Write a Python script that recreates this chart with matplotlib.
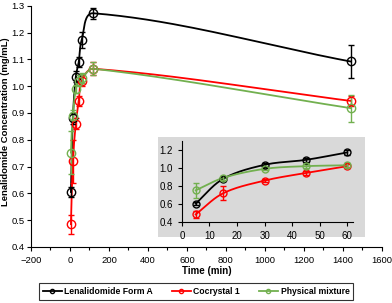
import numpy as np
import matplotlib
matplotlib.use("Agg")
import matplotlib.pyplot as plt
from matplotlib.patches import Rectangle
from matplotlib.ticker import MultipleLocator

plt.rcParams['font.family'] = ['Liberation Sans', 'DejaVu Sans']

time = [5, 15, 30, 45, 60, 120, 1440]
form_a = [0.605, 0.88, 1.035, 1.09, 1.172, 1.272, 1.092]
form_a_err = [0.02, 0.02, 0.02, 0.02, 0.03, 0.02, 0.06]
cocrystal = [0.485, 0.72, 0.86, 0.945, 1.02, 1.065, 0.945]
cocrystal_err = [0.035, 0.08, 0.02, 0.02, 0.02, 0.025, 0.02]
mixture = [0.752, 0.89, 0.99, 1.02, 1.03, 1.065, 0.918]
mixture_err = [0.08, 0.02, 0.015, 0.02, 0.02, 0.025, 0.05]

labels = ['Lenalidomide Form A', 'Cocrystal 1', 'Physical mixture']
colors = ['black', '#ff0000', '#72b04f']
series = [(form_a, form_a_err), (cocrystal, cocrystal_err), (mixture, mixture_err)]


def smooth(x, y, sx, sy, n=40):
    # smoothed line like Excel's, built in screen-like scaled coordinates
    pts = np.column_stack([np.asarray(x, float) / sx, np.asarray(y, float) / sy])
    ext = np.vstack([pts[0], pts, pts[-1]])
    t = np.linspace(0, 1, n)[:, None]
    out = []
    for i in range(1, len(ext) - 2):
        p0, p1, p2, p3 = ext[i - 1], ext[i], ext[i + 1], ext[i + 2]
        seg = np.linalg.norm(p2 - p1)
        d1 = p2 - p0
        d2 = p3 - p1
        d1 = d1 / (np.linalg.norm(d1) or 1)
        d2 = d2 / (np.linalg.norm(d2) or 1)
        c1 = p1 + d1 * seg / 3
        c2 = p2 - d2 * seg / 3
        b = (1 - t) ** 3 * p1 + 3 * (1 - t) ** 2 * t * c1 + 3 * (1 - t) * t ** 2 * c2 + t ** 3 * p2
        out.append(b)
    out = np.vstack(out)
    return out[:, 0] * sx, out[:, 1] * sy


def draw(ax, npts, ms, sx, sy):
    for (vals, err), c in zip(series, colors):
        lx, ly = smooth(time[:npts], vals[:npts], sx, sy)
        ax.plot(lx, ly, color=c, lw=1.3, zorder=2)
        ax.errorbar(time[:npts], vals[:npts], yerr=err[:npts], fmt='o', mfc='none',
                    mec=c, ecolor=c, ms=ms, mew=1.0, elinewidth=1.0, capsize=2,
                    capthick=1.0, zorder=3)


fig = plt.figure(figsize=(3.92, 3.03), dpi=100)
ax = fig.add_axes([0.079, 0.185, 0.895, 0.796])
# scale: data units per pixel (approx.)
draw(ax, len(time), 6, 1800 / 351, 0.9 / 241)
ax.set_xlim(-200, 1600)
ax.set_ylim(0.4, 1.3)
ax.xaxis.set_major_locator(MultipleLocator(200))
ax.xaxis.set_minor_locator(MultipleLocator(100))
ax.yaxis.set_major_locator(MultipleLocator(0.1))
ax.yaxis.set_major_formatter(plt.FormatStrFormatter('%.1f'))
for s in ['top', 'right']:
    ax.spines[s].set_visible(False)
ax.tick_params(labelsize=6.8, length=3, width=0.8)
ax.tick_params(axis='y', pad=1.5)
ax.tick_params(which='minor', length=2, width=0.8)
ax.set_xlabel('Time (min)', fontsize=7, fontweight='bold', labelpad=1)
ax.set_ylabel('Lenalidomide Concentration (mg/mL)', fontsize=6.8, fontweight='bold')
ax.yaxis.set_label_coords(-0.06, 0.52)

fig.patches.append(Rectangle((0.403, 0.218), 0.528, 0.33, transform=fig.transFigure,
                             facecolor='#d9d9d9', edgecolor='none', zorder=5))
ins = fig.add_axes([0.464, 0.267, 0.436, 0.268])
ins.set_zorder(6)
ins.patch.set_alpha(0)
draw(ins, 5, 5, 62 / 171, 0.9 / 81)
ins.set_xlim(0, 62)
ins.set_ylim(0.4, 1.3)
ins.set_xticks([0, 10, 20, 30, 40, 50, 60])
ins.set_yticks([0.4, 0.6, 0.8, 1.0, 1.2])
ins.yaxis.set_major_formatter(plt.FormatStrFormatter('%.1f'))
for s in ['top', 'right']:
    ins.spines[s].set_visible(False)
ins.tick_params(labelsize=7, length=3, width=0.8)

handles = [plt.Line2D([], [], color=c, lw=1.3, marker='o', ms=3, mfc='none', mew=1.0)
           for c in colors]
leg = fig.legend(handles, labels, loc='center', bbox_to_anchor=(0.5, 0.037), ncol=3,
                 frameon=True, fancybox=False, edgecolor='black',
                 handlelength=2.2, columnspacing=2.2, handletextpad=0.3,
                 borderpad=0.45, borderaxespad=0, prop={'weight': 'bold', 'size': 6.2})
leg.get_frame().set_linewidth(0.8)

fig.savefig('out.png', dpi=100)
